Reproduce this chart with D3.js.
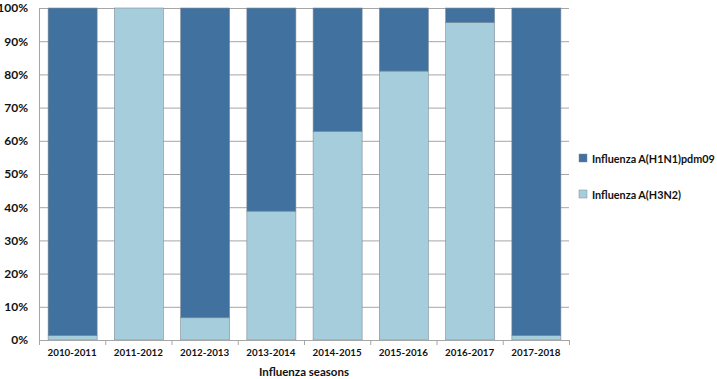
<!DOCTYPE html>
<html>
<head>
<meta charset="utf-8">
<script src="https://cdn.jsdelivr.net/npm/d3@7"></script>
<style>
body{margin:0;background:#fff;}
text{font-family:Lato,"Open Sans",sans-serif;font-weight:bold;fill:#111;}
</style>
</head>
<body>
<div id="chart"></div>
<script>
// seasons + share of H3N2 (rest is H1N1pdm09)
var seasons=["2010-2011","2011-2012","2012-2013","2013-2014","2014-2015","2015-2016","2016-2017","2017-2018"];
var h3n2=[1.3,100,6.7,38.8,62.8,81.0,95.6,1.3];
var h1n1=[98.7,0,93.3,61.2,37.2,19.0,4.4,98.7];
var seriesNames=["Influenza A(H1N1)pdm09","Influenza A(H3N2)"];
var colorlst=["#41719f","#a6cddb"];
var yTicks=[0,10,20,30,40,50,60,70,80,90,100];

var ww=717,hh=379;
var pLeft=39,pRight=569,pTop=8,pBottom=340;

var svg=d3.select("#chart").append("svg")
    .attr("width",ww).attr("height",hh);

var x=d3.scaleBand().domain(seasons).range([pLeft,pRight]).paddingInner(0.26).paddingOuter(0.13);
var y=d3.scaleLinear().domain([0,100]).range([pBottom,pTop]);

// grid
svg.append("g").selectAll("line")
   .data(yTicks.slice(1)).enter().append("line")
   .attr("x1",pLeft).attr("x2",pRight)
   .attr("y1",function(d){return y(d)+0.5;}).attr("y2",function(d){return y(d)+0.5;})
   .attr("stroke","#a6a6a6").attr("stroke-width",1);

// stacked bars
var rows=seasons.map(function(s,i){return {season:s,h1n1:h1n1[i],h3n2:h3n2[i]};});
var stack=d3.stack().keys(["h3n2","h1n1"])(rows);
var keyColor={h3n2:colorlst[1],h1n1:colorlst[0]};

svg.append("g").selectAll("g")
   .data(stack).enter().append("g")
   .attr("fill",function(d){return keyColor[d.key];})
   .selectAll("rect")
   .data(function(d){return d;}).enter().append("rect")
   .attr("x",function(d){return x(d.data.season)+0.5;})
   .attr("width",x.bandwidth())
   .attr("y",function(d){return y(d[1]);})
   .attr("height",function(d){return y(d[0])-y(d[1]);})
   .attr("stroke","#7f8c99").attr("stroke-width",0.6);

// y axis
var yAxis=d3.axisLeft(y).tickValues(yTicks).tickFormat(function(d){return d+"%";}).tickSize(0).tickPadding(11);
var ya=svg.append("g").attr("transform","translate("+pLeft+",0)").call(yAxis);
ya.select(".domain").attr("stroke","#a6a6a6");
ya.selectAll("text").style("font-size","12px").attr("fill","#111");

// x axis
var xa=svg.append("g").attr("transform","translate(0,"+pBottom+")");
xa.append("line").attr("x1",pLeft).attr("x2",pRight).attr("y1",0.5).attr("y2",0.5).attr("stroke","#a6a6a6");
xa.selectAll("line.tk")
  .data(d3.range(seasons.length+1)).enter().append("line")
  .attr("class","tk")
  .attr("x1",function(i){return pLeft+i*x.step()+0.5;})
  .attr("x2",function(i){return pLeft+i*x.step()+0.5;})
  .attr("y1",0).attr("y2",5)
  .attr("stroke","#a6a6a6");
xa.selectAll("text")
  .data(seasons).enter().append("text")
  .attr("x",function(d){return x(d)+x.bandwidth()/2;})
  .attr("y",16)
  .attr("text-anchor","middle")
  .style("font-size","9.8px")
  .text(function(d){return d;});

svg.append("text")
   .attr("x",304).attr("y",376)
   .attr("text-anchor","middle")
   .style("font-size","11.5px")
   .text("Influenza seasons");

// legend
var lg=svg.append("g").selectAll("g")
   .data(seriesNames).enter().append("g")
   .attr("transform",function(d,i){return "translate(579,"+(154+i*36)+")";});
lg.append("rect").attr("width",8).attr("height",8)
  .attr("fill",function(d,i){return colorlst[i];})
  .attr("stroke","#7f8c99").attr("stroke-width",0.5);
lg.append("text").attr("x",13).attr("y",8.5)
  .style("font-size","10.8px")
  .text(function(d){return d;});
</script>
</body>
</html>
